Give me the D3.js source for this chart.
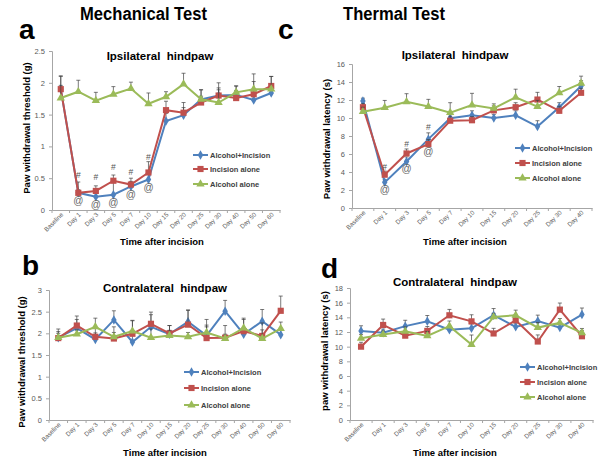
<!DOCTYPE html>
<html><head><meta charset="utf-8">
<script src="https://cdn.jsdelivr.net/npm/d3@7"></script>
<style>
body{margin:0;background:#fff;}
svg{display:block;font-family:Arial,"Liberation Sans",sans-serif;}
</style></head><body>
<svg id="chart" width="604" height="466"></svg>
<script>
// ---------- data ----------
const cats13 = ["Baseline","Day 1","Day 3","Day 5","Day 7","Day 10","Day 15","Day 20","Day 25","Day 30","Day 40","Day 50","Day 60"];
const cats11 = ["Baseline","Day 1","Day 3","Day 5","Day 7","Day 10","Day 15","Day 20","Day 25","Day 30","Day 40"];
const seriesNames = ["Alcohol+Incision","Incision alone","Alcohol alone"];

// a: mechanical, ipsilateral (g)
const aBlue  = [1.90,0.27,0.21,0.24,0.37,0.48,1.40,1.49,1.74,1.80,1.81,1.73,1.84];
const aRed   = [1.90,0.27,0.30,0.46,0.40,0.59,1.57,1.53,1.69,1.80,1.76,1.82,1.95];
const aGreen = [1.76,1.86,1.72,1.82,1.91,1.67,1.78,1.98,1.74,1.69,1.85,1.90,1.90];
const aBlueErr  = [0.20,0.05,0.05,0.23,0.08,0.08,0.12,0.12,0.15,0.12,0.14,0.15,0.14];
const aRedErr   = [0.21,0.17,0.08,0.09,0.10,0.17,0.14,0.16,0.10,0.20,0.12,0.20,0.15];
const aGreenErr = [0.20,0.18,0.13,0.12,0.10,0.17,0.08,0.17,0.15,0.20,0.10,0.24,0.20];
const aHash = [null,0.55,0.52,0.67,0.59,0.84,null,null,null,null,null,null,null];
const aAt   = [null,0.15,0.09,0.12,0.25,0.36,null,null,null,null,null,null,null];

// b: mechanical, contralateral (g)
const bBlue  = [1.90,2.12,1.86,2.31,1.80,2.15,1.98,2.27,1.95,2.51,1.98,2.28,1.97];
const bRed   = [1.89,2.18,1.92,1.88,1.99,2.22,2.00,2.20,1.89,1.90,2.05,1.94,2.52];
const bGreen = [1.90,1.98,2.15,1.92,2.05,1.90,1.95,1.92,2.02,1.88,2.12,1.88,2.11];
const bBlueErr  = [0.20,0.20,0.15,0.21,0.15,0.28,0.20,0.27,0.20,0.25,0.15,0.27,0.15];
const bRedErr   = [0.15,0.22,0.20,0.27,0.30,0.27,0.18,0.33,0.30,0.28,0.30,0.30,0.34];
const bGreenErr = [0.10,0.10,0.20,0.10,0.25,0.20,0.12,0.10,0.30,0.10,0.20,0.20,0.15];

// c: thermal, ipsilateral (s)
const cBlue  = [11.9,2.85,5.17,7.65,9.98,10.3,10.0,10.3,9.05,11.2,13.55];
const cRed   = [11.2,3.70,6.06,7.10,9.70,9.75,10.85,11.2,12.05,10.8,12.8];
const cGreen = [10.7,11.15,11.8,11.27,10.6,11.44,11.07,12.3,11.26,12.8,13.85];
const cBlueErr  = [0.3,0.3,0.5,0.7,0.5,0.5,0.4,0.5,0.65,0.5,0.6];
const cRedErr   = [0.4,0.4,0.5,0.5,0.5,0.4,0.5,0.5,0.8,0.5,0.5];
const cGreenErr = [0.5,0.8,0.9,0.8,1.1,1.3,0.5,0.9,0.7,0.7,0.8];
const cHash = [null,4.52,7.11,8.97,null,null,null,null,null,null,null];
const cAt   = [null,2.08,4.41,6.26,null,null,null,null,null,null,null];

// d: thermal, contralateral (s)
const dBlue  = [12.15,11.9,12.8,13.45,12.3,12.5,14.3,12.7,13.5,12.6,14.37];
const dRed   = [10.0,12.96,11.5,12.15,14.28,13.45,11.8,13.6,10.7,15.05,11.42];
const dGreen = [11.15,11.65,12.1,11.47,12.8,10.29,14.05,14.28,12.6,13.24,11.88];
const dBlueErr  = [0.7,0.5,0.8,0.8,0.5,0.6,0.9,0.5,0.8,0.6,0.9];
const dRedErr   = [0.6,0.8,0.5,0.6,0.8,0.9,0.7,0.8,0.9,0.9,0.8];
const dGreenErr = [0.5,0.5,0.6,0.6,0.7,1.3,0.5,0.7,0.7,0.6,0.6];

const ticksA = [0,0.5,1,1.5,2,2.5];
const ticksB = [0,0.5,1,1.5,2,2.5,3];
const ticksC = [0,2,4,6,8,10,12,14,16];
const ticksD = [0,2,4,6,8,10,12,14,16,18];

// ---------- styling ----------
const colors = ["#4F81BD","#C0504D","#9BBB59"];
const markers = [d3.symbolDiamond, d3.symbolSquare, d3.symbolTriangle];
const markerSize = [26, 38, 30];
const svg = d3.select("#chart");

function panel(o){
  const g = svg.append("g");
  const x = d3.scaleBand().domain(o.cats).range([o.x0,o.x1]);
  const y = d3.scaleLinear().domain([0,o.ticks[o.ticks.length-1]]).range([o.y0,o.y1]);
  // y axis
  const ya = g.append("g").attr("transform",`translate(${o.x0},0)`)
    .call(d3.axisLeft(y).tickValues(o.ticks).tickSize(3).tickPadding(4).tickFormat(d=>String(d)));
  ya.select(".domain").attr("stroke","#a6a6a6");
  ya.selectAll(".tick line").attr("stroke","#a6a6a6");
  ya.selectAll("text").attr("font-size",7.5).attr("fill","#595959").attr("font-family","Arial,'Liberation Sans',sans-serif");
  // x axis
  const xa = g.append("g").attr("transform",`translate(0,${o.y0})`)
    .call(d3.axisBottom(x).tickSize(0).tickFormat(""));
  xa.select(".domain").attr("stroke","#a6a6a6");
  xa.selectAll(".tick").remove();
  const bounds = o.cats.map(c=>x(c)).concat([o.x1]);
  g.selectAll("line.xt").data(bounds).join("line")
    .attr("x1",d=>d).attr("x2",d=>d).attr("y1",o.y0).attr("y2",o.y0+3).attr("stroke","#a6a6a6");
  g.selectAll("text.xl").data(o.cats).join("text")
    .attr("transform",c=>`translate(${x(c)+x.bandwidth()/2+3},${o.y0+5}) rotate(-45)`)
    .attr("text-anchor","end").attr("font-size",6.3).attr("fill","#595959").text(c=>c);
  // titles
  g.append("text").attr("x",o.tx).attr("y",o.ty).attr("text-anchor","middle")
    .attr("font-size",11.5).attr("font-weight","bold").attr("fill","#000").style("white-space","pre").text(o.title);
  g.append("text").attr("transform",`translate(${o.ylx},${o.yly}) rotate(-90)`).attr("text-anchor","middle")
    .attr("font-size",9.5).attr("font-weight","bold").text(o.ylabel);
  g.append("text").attr("x",o.xlx).attr("y",o.xly).attr("text-anchor","middle")
    .attr("font-size",9.5).attr("font-weight","bold").text("Time after incision");
  // series
  const cx = c=>x(c)+x.bandwidth()/2;
  o.series.forEach((s,si)=>{
    const pts = o.cats.map((c,i)=>({c,v:s.v[i],e:s.e[i]}));
    const eg = g.append("g");
    eg.selectAll("line.eb").data(pts).join("line")
      .attr("x1",d=>cx(d.c)).attr("x2",d=>cx(d.c)).attr("y1",d=>y(d.v)).attr("y2",d=>y(d.v+d.e))
      .attr("stroke","#404040").attr("stroke-width",0.7);
    eg.selectAll("line.ec").data(pts).join("line")
      .attr("x1",d=>cx(d.c)-2).attr("x2",d=>cx(d.c)+2).attr("y1",d=>y(d.v+d.e)).attr("y2",d=>y(d.v+d.e))
      .attr("stroke","#404040").attr("stroke-width",0.7);
    g.append("path").datum(pts)
      .attr("d",d3.line().x(d=>cx(d.c)).y(d=>y(d.v)))
      .attr("fill","none").attr("stroke",colors[si]).attr("stroke-width",2);
    g.selectAll(null).data(pts).join("path")
      .attr("transform",d=>`translate(${cx(d.c)},${y(d.v)})`)
      .attr("d",d3.symbol().type(markers[si]).size(markerSize[si]))
      .attr("fill",colors[si]);
  });
  // annotations
  if(o.hash){
    g.selectAll(null).data(o.cats.map((c,i)=>({c,v:o.hash[i]})).filter(d=>d.v!=null)).join("text")
      .attr("x",d=>cx(d.c)).attr("y",d=>y(d.v)+3).attr("text-anchor","middle")
      .attr("font-size",8.5).attr("fill","#555").text("#");
    g.selectAll(null).data(o.cats.map((c,i)=>({c,v:o.at[i]})).filter(d=>d.v!=null)).join("text")
      .attr("x",d=>cx(d.c)).attr("y",d=>y(d.v)+3.5).attr("text-anchor","middle")
      .attr("font-size",10).attr("fill","#666").text("@");
  }
  // legend
  o.legY.forEach((ly,i)=>{
    g.append("line").attr("x1",o.legX).attr("x2",o.legX+15).attr("y1",ly).attr("y2",ly)
      .attr("stroke",colors[i]).attr("stroke-width",2);
    g.append("path").attr("transform",`translate(${o.legX+7.5},${ly})`)
      .attr("d",d3.symbol().type(markers[i]).size(markerSize[i])).attr("fill",colors[i]);
    g.append("text").attr("x",o.legX+17).attr("y",ly+3).attr("font-size",7.5).attr("font-weight","bold")
      .attr("fill","#404040").text(seriesNames[i]);
  });
}

panel({cats:cats13,ticks:ticksA,x0:52,x1:280,y0:210,y1:51,
  series:[{v:aBlue,e:aBlueErr},{v:aRed,e:aRedErr},{v:aGreen,e:aGreenErr}],
  title:"Ipsilateral  hindpaw",tx:160,ty:60,ylabel:"Paw withdrawal threshold (g)",ylx:30,yly:128,
  xlx:162,xly:245,legX:193,legY:[155,169,184],hash:aHash,at:aAt});
panel({cats:cats13,ticks:ticksB,x0:49,x1:290,y0:420,y1:290,
  series:[{v:bBlue,e:bBlueErr},{v:bRed,e:bRedErr},{v:bGreen,e:bGreenErr}],
  title:"Contralateral  hindpaw",tx:165,ty:292,ylabel:"Paw withdrawal threshold (g)",ylx:25,yly:362,
  xlx:165,xly:456,legX:184,legY:[372,388,405]});
panel({cats:cats11,ticks:ticksC,x0:352,x1:592,y0:208,y1:64,
  series:[{v:cBlue,e:cBlueErr},{v:cRed,e:cRedErr},{v:cGreen,e:cGreenErr}],
  title:"Ipsilateral  hindpaw",tx:455,ty:59,ylabel:"Paw withdrawal latency (s)",ylx:330,yly:139,
  xlx:465,xly:245,legX:515,legY:[148,163,178],hash:cHash,at:cAt});
panel({cats:cats11,ticks:ticksD,x0:350,x1:593,y0:420,y1:288,
  series:[{v:dBlue,e:dBlueErr},{v:dRed,e:dRedErr},{v:dGreen,e:dGreenErr}],
  title:"Contralateral  hindpaw",tx:455,ty:286,ylabel:"paw withdrawal latency (s)",ylx:328,yly:351,
  xlx:455,xly:456,legX:520,legY:[367,382,397]});

// headings & panel letters
svg.append("text").attr("x",143.5).attr("y",20).attr("text-anchor","middle").attr("font-size",18)
  .attr("font-weight","bold").attr("textLength",127).attr("lengthAdjust","spacingAndGlyphs").text("Mechanical Test");
svg.append("text").attr("x",394).attr("y",20).attr("text-anchor","middle").attr("font-size",18)
  .attr("font-weight","bold").attr("textLength",102).attr("lengthAdjust","spacingAndGlyphs").text("Thermal Test");
[["a",19,39],["c",278,39],["b",22,275],["d",321,278]].forEach(([t,x,yy])=>{
  svg.append("text").attr("x",x).attr("y",yy).attr("font-size",28).attr("font-weight","bold").text(t);
});
</script>
</body></html>
